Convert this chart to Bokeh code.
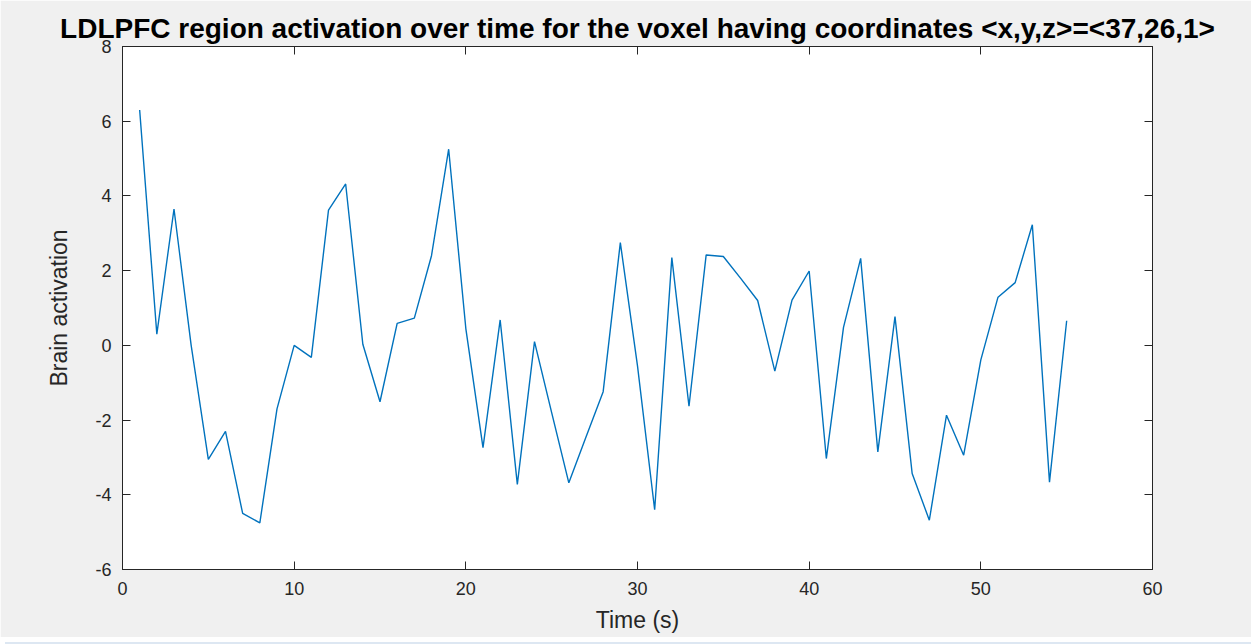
from bokeh.plotting import figure
from bokeh.models import LinearAxis, FixedTicker, CustomJSTickFormatter, Div, Range1d
from bokeh.layouts import column
from bokeh.embed import file_html
from bokeh.resources import INLINE

# Data
time_s = list(range(1, 56))
activation = [
    6.3, 0.3, 3.65, 0.0, -3.05, -2.3, -4.5, -4.75, -1.7, 0.0,
    -0.32, 3.62, 4.32, 0.03, -1.51, 0.59, 0.73, 2.4, 5.25, 0.45,
    -2.74, 0.68, -3.72, 0.1, -1.8, -3.68, -2.45, -1.24, 2.75, -0.55,
    -4.4, 2.35, -1.63, 2.42, 2.38, 1.8, 1.2, -0.69, 1.21, 1.99,
    -3.03, 0.48, 2.33, -2.85, 0.77, -3.43, -4.68, -1.87, -2.94, -0.39,
    1.29, 1.68, 3.23, -3.66, 0.66,
]
x_ticks = [0, 10, 20, 30, 40, 50, 60]
y_ticks = [-6, -4, -2, 0, 2, 4, 6, 8]

title_text = "LDLPFC region activation over time for the voxel having coordinates <x,y,z>=<37,26,1>"
FONT = "Liberation Sans"
AX = "#262626"

p = figure(
    frame_width=1030, frame_height=523,
    min_border_left=122, min_border_right=99, min_border_top=46, min_border_bottom=68,
    x_range=Range1d(0, 60), y_range=Range1d(-6, 8),
    output_backend="svg", toolbar_location=None,
    background_fill_color="white", border_fill_color="#f0f0f0",
    outline_line_color=AX,
)
p.title.text = title_text
p.title.align = "center"
p.title.text_font = FONT
p.title.text_font_size = "28px"
p.title.text_font_style = "bold"
p.title.text_color = "black"
p.title.standoff = 5

p.xgrid.visible = False
p.ygrid.visible = False

plain = CustomJSTickFormatter(code="return String(tick)")
for ax, ticks in ((p.xaxis[0], x_ticks), (p.yaxis[0], y_ticks)):
    ax.ticker = FixedTicker(ticks=ticks)
    ax.formatter = plain
    ax.major_tick_in = 8
    ax.major_tick_out = 0
    ax.minor_tick_line_color = None
    ax.axis_line_color = AX
    ax.major_tick_line_color = AX
    ax.major_label_text_font = FONT
    ax.major_label_text_font_size = "18px"
    ax.major_label_text_color = AX
    ax.axis_label_text_font = FONT
    ax.axis_label_text_font_size = "23px"
    ax.axis_label_text_font_style = "normal"
    ax.axis_label_text_color = AX

p.xaxis.axis_label = "Time (s)"
p.yaxis.axis_label = "Brain activation"
p.xaxis.major_label_standoff = 12
p.yaxis.major_label_standoff = 11
p.xaxis.axis_label_standoff = 9
p.yaxis.axis_label_standoff = 20

blank = CustomJSTickFormatter(code="return ''")
top = LinearAxis(ticker=FixedTicker(ticks=x_ticks), formatter=blank,
                 major_tick_in=8, major_tick_out=0, minor_tick_line_color=None,
                 axis_line_color=AX, major_tick_line_color=AX, major_label_text_font_size="1px")
right = LinearAxis(ticker=FixedTicker(ticks=y_ticks), formatter=blank,
                   major_tick_in=8, major_tick_out=0, minor_tick_line_color=None,
                   axis_line_color=AX, major_tick_line_color=AX, major_label_text_font_size="1px")
p.add_layout(top, "above")
p.add_layout(right, "right")

p.line(time_s, activation, line_color="#0072BD", line_width=1.4)

strip = Div(text="", width=1251, height=7, styles={"background-color": "#dde7f2"})
layout = column(p, strip, spacing=0)

open("out.html", "w").write(file_html(layout, INLINE))
